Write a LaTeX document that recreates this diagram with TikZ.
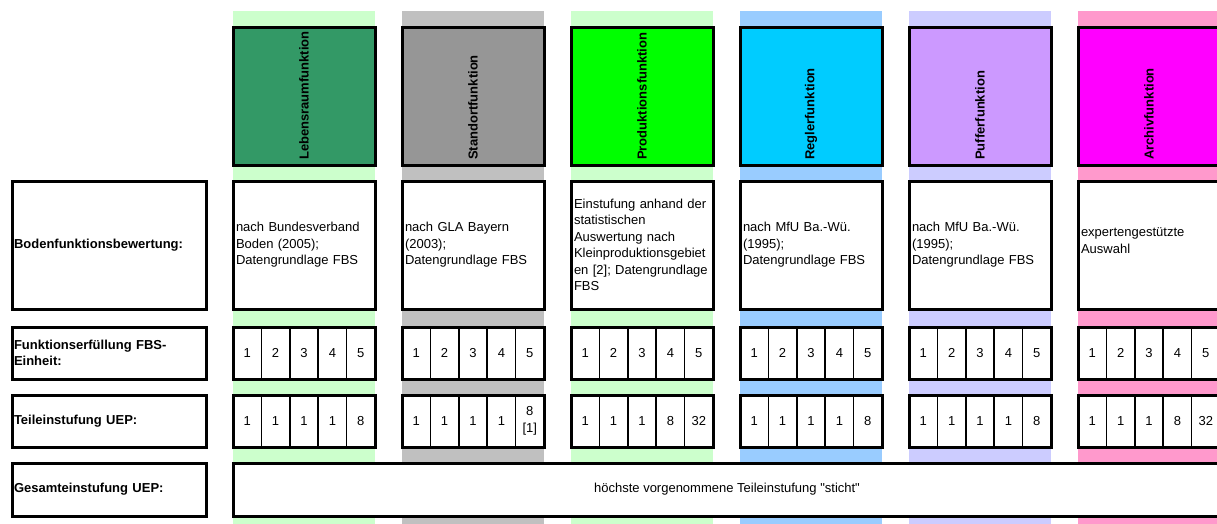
\documentclass[tikz,border=0pt]{standalone}
\usepackage{fontspec}
\setmainfont{Liberation Sans}[Ligatures=TeXOff]
\definecolor{bA}{HTML}{CCFFCC}
\definecolor{bB}{HTML}{C0C0C0}
\definecolor{bC}{HTML}{CCFFCC}
\definecolor{bD}{HTML}{99CCFF}
\definecolor{bE}{HTML}{CCCCFF}
\definecolor{bF}{HTML}{FF99CC}
\definecolor{hA}{HTML}{339966}
\definecolor{hB}{HTML}{969696}
\definecolor{hC}{HTML}{00FF00}
\definecolor{hD}{HTML}{00CCFF}
\definecolor{hE}{HTML}{CC99FF}
\definecolor{hF}{HTML}{FF00FF}
\tikzset{
  txt/.style={font=\fontsize{13pt}{16.5pt}\selectfont},
  boldtxt/.style={font=\fontsize{13pt}{16.5pt}\selectfont\bfseries},
  hbox/.style={draw, line width=3pt, minimum width=142pt, minimum height=137pt, outer sep=0pt, inner sep=0pt},
  htext/.style={boldtxt, rotate=90, anchor=west, inner sep=0pt},
  bbox/.style={txt, draw, line width=3pt, fill=white, minimum width=142pt, minimum height=128pt,
    text width=136pt, inner xsep=3pt, inner ysep=0pt, align=left, outer sep=0pt},
  lbox/.style={boldtxt, draw, line width=3pt, fill=white, minimum width=194pt,
    text width=190pt, inner xsep=2pt, inner ysep=0pt, align=left, outer sep=0pt},
  numcell/.style={txt, draw, line width=1.5pt, fill=white, minimum width=28.4pt, minimum height=52pt,
    inner sep=0pt, outer sep=0pt, align=center},
  outerframe/.style={draw, line width=3pt},
}
\newcommand\mkrow[8]{%
  \pgfmathsetmacro\xo{233+169*(#1-1)}%
  \node[numcell] (#2#1-1) at (\xo+14.2,#3) {#4};
  \node[numcell] (#2#1-2) at (\xo+42.6,#3) {#5};
  \node[numcell] (#2#1-3) at (\xo+71.0,#3) {#6};
  \node[numcell] (#2#1-4) at (\xo+99.4,#3) {#7};
  \node[numcell] (#2#1-5) at (\xo+127.8,#3) {#8};
  \draw[outerframe] (#2#1-1.north west) rectangle (#2#1-5.south east);
}
\begin{document}
\begin{tikzpicture}[x=1pt,y=-1pt]
\useasboundingbox (0,0) rectangle (1217,524);
\clip (0,0) rectangle (1217,524);
\fill[white] (0,0) rectangle (1217,524);
% bands and headers
\foreach \i/\hc/\bc/\nm in {1/hA/bA/Lebensraumfunktion,2/hB/bB/Standortfunktion,3/hC/bC/Produktionsfunktion,4/hD/bD/Reglerfunktion,5/hE/bE/Pufferfunktion,6/hF/bF/Archivfunktion}{
  \pgfmathsetmacro\xo{233+169*(\i-1)}
  \fill[\bc] (\xo,11) rectangle (\xo+142,524);
  \node[hbox, fill=\hc] (h\i) at (\xo+71,96.5) {};
  \node[htext] (ht\i) at (\xo+71,160) {\nm};
}
% left labels
\node[lbox, minimum height=128pt] (l1) at (109,245) {Bodenfunktionsbewertung:};
\node[lbox, minimum height=52pt] (l2) at (109,353) {Funktionserfüllung FBS-\\Einheit:};
\node[lbox, minimum height=52pt] (l3) at (109,421) {Teileinstufung UEP:};
\node[lbox, minimum height=53pt] (l4) at (109,489.5) {Gesamteinstufung UEP:};
% Bodenfunktionsbewertung cells
\node[bbox] (b1) at (304,245) {nach Bundesverband\\Boden (2005);\\Datengrundlage FBS};
\node[bbox] (b2) at (473,245) {nach GLA Bayern\\(2003);\\Datengrundlage FBS};
\node[bbox] (b3) at (642,245) {Einstufung anhand der\\statistischen\\Auswertung nach\\Kleinproduktionsgebiet\\en [2]; Datengrundlage\\FBS};
\node[bbox] (b4) at (811,245) {nach MfU Ba.-Wü.\\(1995);\\Datengrundlage FBS};
\node[bbox] (b5) at (980,245) {nach MfU Ba.-Wü.\\(1995);\\Datengrundlage FBS};
\node[bbox, text depth=25pt] (b6) at (1149,245) {expertengestützte\\Auswahl};
% Funktionserfuellung rows
\mkrow{1}{f}{353}{1}{2}{3}{4}{5}
\mkrow{2}{f}{353}{1}{2}{3}{4}{5}
\mkrow{3}{f}{353}{1}{2}{3}{4}{5}
\mkrow{4}{f}{353}{1}{2}{3}{4}{5}
\mkrow{5}{f}{353}{1}{2}{3}{4}{5}
\mkrow{6}{f}{353}{1}{2}{3}{4}{5}
% Teileinstufung rows
\mkrow{1}{t}{421}{1}{1}{1}{1}{8}
\mkrow{2}{t}{421}{1}{1}{1}{1}{8\\{[1]}}
\mkrow{3}{t}{421}{1}{1}{1}{8}{32}
\mkrow{4}{t}{421}{1}{1}{1}{1}{8}
\mkrow{5}{t}{421}{1}{1}{1}{1}{8}
\mkrow{6}{t}{421}{1}{1}{1}{8}{32}
% Gesamteinstufung
\node[txt, draw, line width=3pt, fill=white, minimum width=988pt, minimum height=53pt, outer sep=0pt] (g) at (727,489.5) {höchste vorgenommene Teileinstufung "sticht"};
\end{tikzpicture}
\end{document}
